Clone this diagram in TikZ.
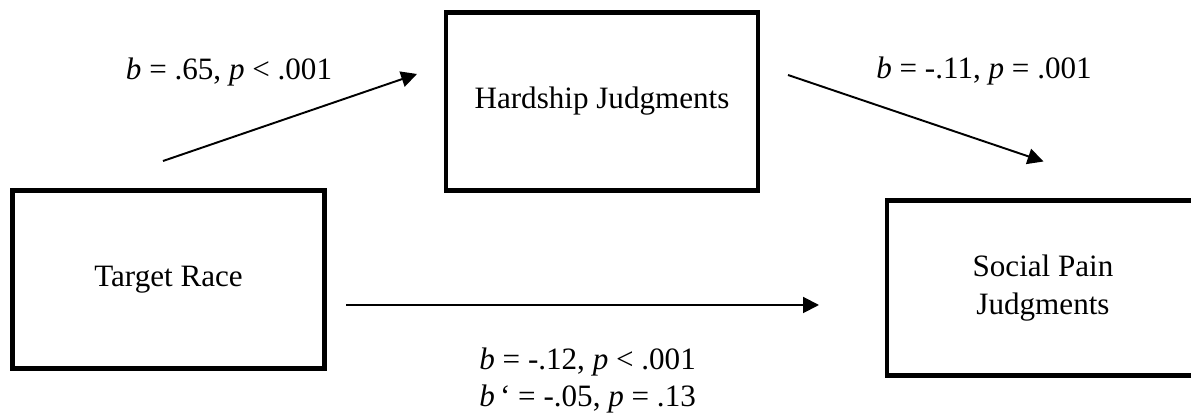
\documentclass[tikz,border=0pt]{standalone}
\usepackage{fontspec}
\setmainfont{Liberation Serif}
\usetikzlibrary{arrows.meta, positioning}

\begin{document}
\begin{tikzpicture}[>={Triangle[length=9pt, width=9pt]},
  every node/.style={font=\fontsize{17.7}{21.5}\selectfont},
  varbox/.style={draw, line width=2.8pt, minimum width=6.24cm, minimum height=3.56cm, align=center},
  path/.style={->, line width=1.1pt},
  coef/.style={anchor=base}]

% Canvas
\useasboundingbox (0,0) rectangle (23.82,8.32);
\clip (0,0) rectangle (23.82,8.32);

% ========== Variables ==========
\node[varbox] (race) at (3.37,2.73) {Target Race};
\node[varbox] (hard) at (12.04,6.29) {Hardship Judgments};
\node[varbox, minimum height=3.5cm] (pain) at (20.86,2.56) {Social Pain\\Judgments};

% Arrow ends
\coordinate (a1s) at (3.26,5.10);
\coordinate (a1e) at (8.34,6.84);
\coordinate (a2s) at (15.76,6.82);
\coordinate (a2e) at (20.87,5.09);
\coordinate (a3s) at (6.92,2.22);
\coordinate (a3e) at (16.38,2.22);

% ========== Paths ==========
\draw[path] (a1s) -- (a1e);
\draw[path] (a2s) -- (a2e);
\draw[path] (a3s) -- (a3e);

% Coefficients
\node[coef] (c1) at (4.58,6.72) {\textit{b} = .65, \textit{p} < .001};
\node[coef] (c2) at (19.68,6.74) {\textit{b} = -.11, \textit{p} = .001};
\node[anchor=base west, align=left, inner sep=0pt] (c3) at (9.58,0.18)
  {\textit{b} = -.12, \textit{p} < .001\\\textit{b}\,‘ = -.05, \textit{p} = .13};

\end{tikzpicture}
\end{document}
